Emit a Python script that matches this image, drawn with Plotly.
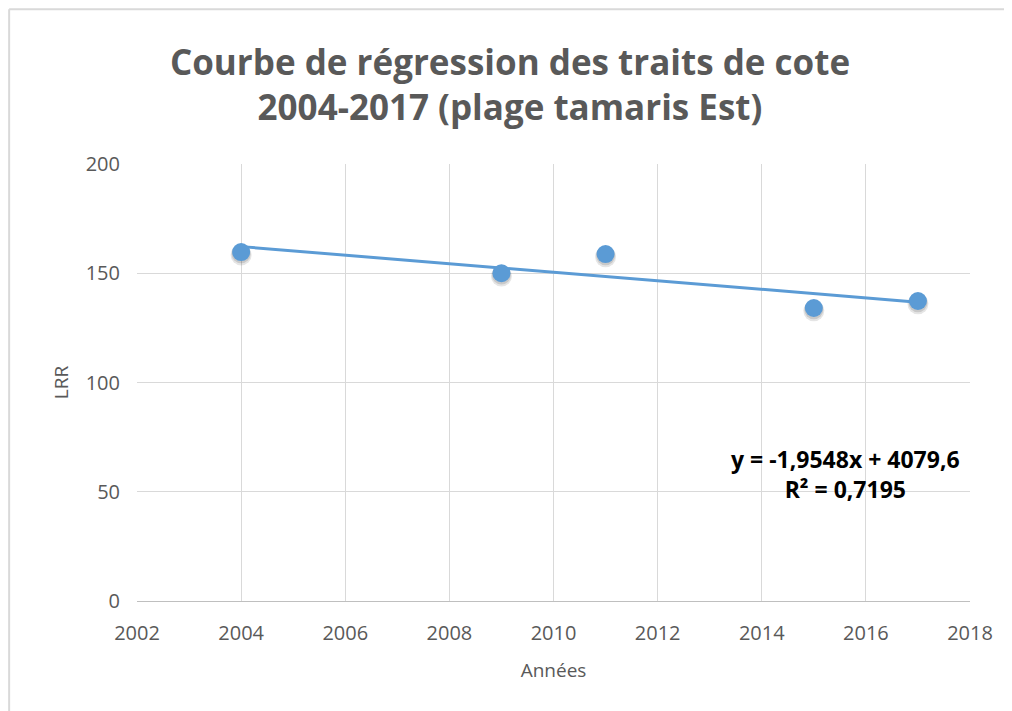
import plotly.graph_objects as go

# Data
years = [2004, 2009, 2011, 2015, 2017]
lrr = [159.7, 150.0, 158.8, 134.1, 137.3]
slope = -1.9548
intercept = 4079.6
x_ticks = [2002, 2004, 2006, 2008, 2010, 2012, 2014, 2016, 2018]
y_ticks = [0, 50, 100, 150, 200]

trend_x = [min(years), max(years)]
trend_y = [slope * x + intercept for x in trend_x]

FONT = "Open Sans"
GRAY = "#595959"
BLUE = "#5b9bd5"

fig = go.Figure()
# soft marker shadow (slightly below the marker)
fig.add_trace(go.Scatter(x=years, y=[v - 1.3 for v in lrr], mode="markers",
                         marker=dict(size=21, color="rgba(0,0,0,0.10)", line=dict(width=0)),
                         hoverinfo="skip", showlegend=False))
fig.add_trace(go.Scatter(x=years, y=[v - 0.8 for v in lrr], mode="markers",
                         marker=dict(size=19, color="rgba(0,0,0,0.12)", line=dict(width=0)),
                         hoverinfo="skip", showlegend=False))
fig.add_trace(go.Scatter(x=trend_x, y=trend_y, mode="lines",
                         line=dict(color=BLUE, width=3), showlegend=False))
fig.add_trace(go.Scatter(x=years, y=lrr, mode="markers",
                         marker=dict(size=18, color=BLUE, line=dict(width=0)),
                         showlegend=False))

eq = "y = -1,9548x + 4079,6<br>R² = 0,7195"
fig.add_annotation(x=2015.6, y=58.3, xref="x", yref="y", text=eq, showarrow=False,
                   align="center", font=dict(family=FONT, size=23, color="black", weight="bold"))

# chart frame (top and left edges)
fig.add_shape(type="line", xref="paper", yref="paper", x0=-0.1535, x1=1.2, y0=1.354, y1=1.354,
              line=dict(color="#d9d9d9", width=2), layer="below")
fig.add_shape(type="line", xref="paper", yref="paper", x0=-0.1535, x1=-0.1535, y0=-0.3, y1=1.354,
              line=dict(color="#d9d9d9", width=2), layer="below")

fig.update_layout(
    width=1004, height=703,
    margin=dict(l=129, r=42, t=156, b=110),
    paper_bgcolor="white", plot_bgcolor="white",
    title=dict(text="Courbe de régression des traits de cote<br>2004-2017 (plage tamaris Est)",
               x=0.5, xanchor="center", y=0.905, yanchor="middle",
               font=dict(family=FONT, size=35, color=GRAY, weight="bold")),
    font=dict(family=FONT, color=GRAY, size=20),
    xaxis=dict(range=[2002, 2018], tickvals=x_ticks, showgrid=True, gridcolor="#d9d9d9", gridwidth=1.3,
               zeroline=False, showline=True, linecolor="#bfbfbf", linewidth=1.3, ticks="",
               ticklabelstandoff=14,
               title=dict(text="Années", font=dict(size=19, color=GRAY), standoff=18),
               tickfont=dict(size=20, color=GRAY)),
    yaxis=dict(range=[0, 200], tickvals=y_ticks, showgrid=True, gridcolor="#d9d9d9", gridwidth=1.3,
               zeroline=False, showline=False, ticks="",
               ticklabelstandoff=16,
               title=dict(text="LRR", font=dict(size=19, color=GRAY), standoff=12),
               tickfont=dict(size=20, color=GRAY)),
)

fig.write_html("out.html")
